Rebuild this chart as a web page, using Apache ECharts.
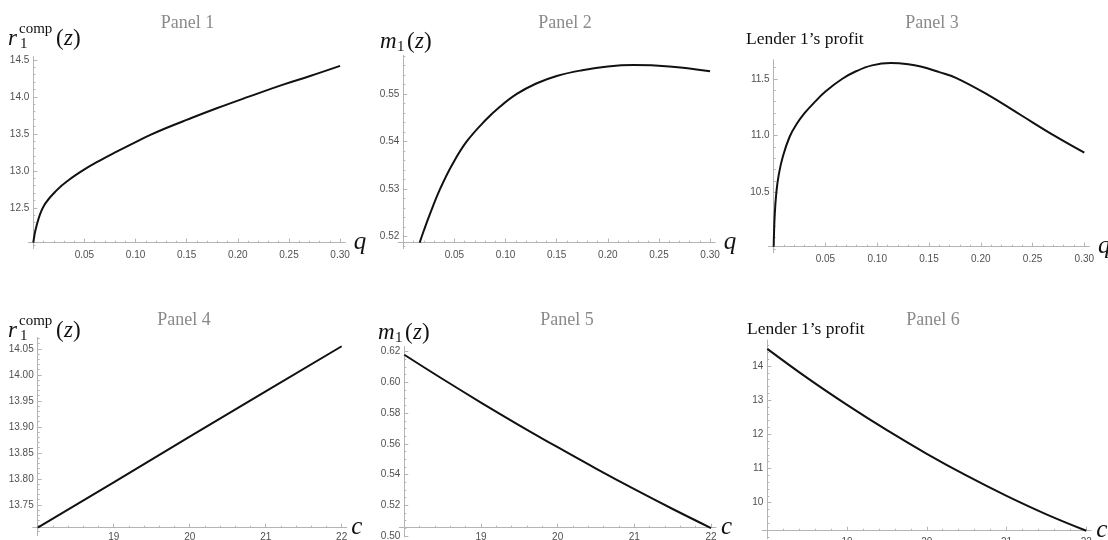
<!DOCTYPE html>
<html>
<head>
<meta charset="utf-8">
<script src="https://cdn.jsdelivr.net/npm/echarts@6/dist/echarts.min.js"></script>
<style>
  html, body { margin: 0; padding: 0; background: #ffffff; }
  #chart { width: 1108px; height: 540px; }
</style>
</head>
<body>
<div id="chart"></div>
<script>
// ---- Panel 1: r1comp(z) against q ----
const qPanel1 = [0, 0.003, 0.01, 0.023, 0.035, 0.05, 0.065, 0.08, 0.10, 0.115, 0.13, 0.15, 0.18, 0.21, 0.245, 0.27, 0.30];
const rCompPanel1 = [12.03, 12.25, 12.52, 12.74, 12.88, 13.02, 13.14, 13.25, 13.39, 13.49, 13.58, 13.69, 13.85, 14.00, 14.17, 14.28, 14.42];

// ---- Panel 2: m1(z) against q ----
const qPanel2 = [0.016, 0.02, 0.026, 0.036, 0.048, 0.062, 0.08, 0.095, 0.111, 0.13, 0.15, 0.175, 0.20, 0.225, 0.26, 0.30];
const m1Panel2 = [0.5187, 0.5212, 0.5247, 0.5300, 0.5352, 0.5400, 0.5444, 0.5474, 0.5500, 0.5522, 0.5538, 0.5550, 0.5558, 0.5561, 0.5558, 0.5548];

// ---- Panel 3: lender 1's profit against q ----
const qPanel3 = [0, 0.001, 0.0026, 0.005, 0.009, 0.0154, 0.022, 0.03, 0.04, 0.05, 0.066, 0.08, 0.095, 0.113, 0.13, 0.142, 0.16, 0.176, 0.207, 0.239, 0.271, 0.30];
const profitPanel3 = [10.02, 10.30, 10.50, 10.66, 10.82, 10.99, 11.10, 11.20, 11.30, 11.39, 11.50, 11.57, 11.62, 11.64, 11.63, 11.61, 11.56, 11.51, 11.36, 11.18, 11.00, 10.85];

// ---- Panel 4: r1comp(z) against c ----
const cPanel4 = [18, 19, 20, 21, 22];
const rCompPanel4 = [13.706, 13.793, 13.881, 13.968, 14.055];

// ---- Panels 5 and 6: m1(z) and lender 1's profit against c ----
const cPanel56 = [18, 18.5, 19, 19.5, 20, 20.5, 21, 21.5, 22];
const m1Panel5 = [0.618, 0.6022, 0.5869, 0.5721, 0.5578, 0.5439, 0.5305, 0.5176, 0.5052];
const profitPanel6 = [14.50, 13.65, 12.86, 12.12, 11.43, 10.79, 10.20, 9.66, 9.18];

// ---- tick labels ----
const qTickLabels = ['0.05', '0.10', '0.15', '0.20', '0.25', '0.30'];
const cTickLabels = ['19', '20', '21', '22'];
const yTickLabels1 = ['12.5', '13.0', '13.5', '14.0', '14.5'];
const yTickLabels2 = ['0.52', '0.53', '0.54', '0.55'];
const yTickLabels3 = ['10.5', '11.0', '11.5'];
const yTickLabels4 = ['13.75', '13.80', '13.85', '13.90', '13.95', '14.00', '14.05'];
const yTickLabels5 = ['0.50', '0.52', '0.54', '0.56', '0.58', '0.60', '0.62'];
const yTickLabels6 = ['10', '11', '12', '13', '14'];
const panelTitles = ['Panel 1', 'Panel 2', 'Panel 3', 'Panel 4', 'Panel 5', 'Panel 6'];

const zip = (xs, ys) => xs.map((x, i) => [x, ys[i]]);
const panels = [
  { data: zip(qPanel1, rCompPanel1), xTicks: qTickLabels, yTicks: yTickLabels1, smooth: 0.4 },
  { data: zip(qPanel2, m1Panel2), xTicks: qTickLabels, yTicks: yTickLabels2, smooth: 0.4 },
  { data: zip(qPanel3, profitPanel3), xTicks: qTickLabels, yTicks: yTickLabels3, smooth: 0.4 },
  { data: zip(cPanel4, rCompPanel4), xTicks: cTickLabels, yTicks: yTickLabels4, smooth: false },
  { data: zip(cPanel56, m1Panel5), xTicks: cTickLabels, yTicks: yTickLabels5, smooth: 0.4 },
  { data: zip(cPanel56, profitPanel6), xTicks: cTickLabels, yTicks: yTickLabels6, smooth: 0.4 }
];

// plot boxes, ranges, axis crossing points and minor tick steps
const layout = [
  { left: 28.2, top: 56.6, width: 317, height: 192, x: [-0.005, 0.305], y: [11.95, 14.545], cross: [0, 12.03], xName: 'q', nameGap: 8, xMinor: 0.01, yMinor: 0.1, labelMargin: 8 },
  { left: 398.2, top: 55.5, width: 317, height: 193.1, x: [-0.005, 0.305], y: [0.51744, 0.5581], cross: [0, 0.5187], xName: 'q', nameGap: 8, xMinor: 0.01, yMinor: 0.002, labelMargin: 8 },
  { left: 768.5, top: 59.7, width: 321, height: 193, x: [-0.005, 0.305], y: [9.967, 11.67], cross: [0, 10.02], xName: 'q', nameGap: 6, xMinor: 0.01, yMinor: 0.1, labelMargin: 8 },
  { left: 32.7, top: 337.4, width: 314, height: 198.3, x: [17.934, 22.066], y: [13.6906, 14.072], cross: [18, 13.706], xName: 'c', nameGap: 4, xMinor: 0.2, yMinor: 0.01, labelMargin: 5 },
  { left: 399.3, top: 346.6, width: 316.8, height: 190.2, x: [17.935, 22.066], y: [0.4995, 0.6233], cross: [18, 0.5054], xName: 'c', nameGap: 5, xMinor: 0.2, yMinor: 0.005, labelMargin: 5 },
  { left: 762.3, top: 340, width: 329, height: 198.7, x: [17.937, 22.063], y: [8.946, 14.76], cross: [18, 9.18], xName: 'c', nameGap: 5, xMinor: 0.2, yMinor: 0.2, labelMargin: 7 }
];

const AXIS_COLOR = '#b4b4b4';
const LABEL_COLOR = '#505050';
const SANS = '"Liberation Sans", Arial, sans-serif';
const SERIF = '"Liberation Serif", "Times New Roman", serif';

function minorValues(range, step, majors) {
  const out = [];
  const k0 = Math.ceil(range[0] / step - 1e-9);
  const k1 = Math.floor(range[1] / step + 1e-9);
  for (let k = k0; k <= k1; k++) {
    const v = +(k * step).toFixed(6);
    if (!majors.some(m => Math.abs(m - v) < step / 10)) out.push(v);
  }
  return out;
}
function labelFormatter(labels) {
  return v => labels.find(s => Math.abs(parseFloat(s) - v) < 1e-7) || '';
}

const grids = [], xAxes = [], yAxes = [], series = [];
panels.forEach((p, i) => {
  const L = layout[i];
  grids.push({ left: L.left, top: L.top, width: L.width, height: L.height, containLabel: false, outerBoundsMode: 'none' });
  const xMajor = p.xTicks.map(Number);
  const yMajor = p.yTicks.map(Number);
  const xOffset = -((L.cross[1] - L.y[0]) / (L.y[1] - L.y[0])) * L.height;
  const yOffset = -((L.cross[0] - L.x[0]) / (L.x[1] - L.x[0])) * L.width;

  xAxes.push({
    type: 'value', gridIndex: i, min: L.x[0], max: L.x[1], position: 'bottom', offset: xOffset,
    axisLine: { show: true, onZero: false, lineStyle: { color: AXIS_COLOR, width: 1 } },
    axisTick: { show: true, inside: true, length: 4, customValues: xMajor, lineStyle: { color: AXIS_COLOR } },
    axisLabel: { customValues: xMajor, formatter: labelFormatter(p.xTicks), color: LABEL_COLOR, fontSize: 10, fontFamily: SANS, margin: L.labelMargin },
    splitLine: { show: false },
    name: L.xName, nameLocation: 'end', nameGap: L.nameGap,
    nameTextStyle: { fontFamily: SERIF, fontStyle: 'italic', fontSize: 25, color: '#111', verticalAlign: 'middle', padding: [0, 0, 8, 0] }
  });
  xAxes.push({
    type: 'value', gridIndex: i, min: L.x[0], max: L.x[1], position: 'bottom', offset: xOffset,
    axisLine: { show: false, onZero: false },
    axisTick: { show: true, inside: true, length: 2, customValues: minorValues(L.x, L.xMinor, xMajor), lineStyle: { color: AXIS_COLOR } },
    axisLabel: { show: false }, splitLine: { show: false }
  });
  yAxes.push({
    type: 'value', gridIndex: i, min: L.y[0], max: L.y[1], position: 'left', offset: yOffset,
    axisLine: { show: true, onZero: false, lineStyle: { color: AXIS_COLOR, width: 1 } },
    axisTick: { show: true, inside: true, length: 4, customValues: yMajor, lineStyle: { color: AXIS_COLOR } },
    axisLabel: { customValues: yMajor, formatter: labelFormatter(p.yTicks), color: LABEL_COLOR, fontSize: 10, fontFamily: SANS, margin: 4 },
    splitLine: { show: false }
  });
  yAxes.push({
    type: 'value', gridIndex: i, min: L.y[0], max: L.y[1], position: 'left', offset: yOffset,
    axisLine: { show: false, onZero: false },
    axisTick: { show: true, inside: true, length: 2, customValues: minorValues(L.y, L.yMinor, yMajor), lineStyle: { color: AXIS_COLOR } },
    axisLabel: { show: false }, splitLine: { show: false }
  });
  series.push({
    type: 'line', xAxisIndex: 2 * i, yAxisIndex: 2 * i, data: p.data,
    showSymbol: false, smooth: p.smooth, silent: true,
    lineStyle: { color: '#111111', width: 2 }
  });
});

// panel headings and vertical-axis captions
const titlePos = [[187.5, 23], [565, 23], [932, 23], [184, 320], [567, 320], [933, 320]];
function txt(x, y, text, size, opts) {
  return {
    type: 'text', x: x, y: y, silent: true,
    style: Object.assign({ text: text, fontSize: size, fontFamily: SERIF, fill: '#111', align: 'left', verticalAlign: 'middle' }, opts || {})
  };
}
function rComp(x, base) {
  return [
    txt(x, base - 7.5, 'r', 23, { fontStyle: 'italic' }),
    txt(x + 11, base - 17, 'comp', 15),
    txt(x + 12, base - 2, '1', 15),
    txt(x + 48, base - 7.5, '(', 23),
    txt(x + 56, base - 7.5, 'z', 23, { fontStyle: 'italic' }),
    txt(x + 65, base - 7.5, ')', 23)
  ];
}
function mOne(x, base) {
  return [
    txt(x, base - 7.5, 'm', 23, { fontStyle: 'italic' }),
    txt(x + 17, base - 2, '1', 15),
    txt(x + 27, base - 7.5, '(', 23),
    txt(x + 35, base - 7.5, 'z', 23, { fontStyle: 'italic' }),
    txt(x + 44, base - 7.5, ')', 23)
  ];
}
const graphics = [];
panelTitles.forEach((t, i) => {
  graphics.push(txt(titlePos[i][0], titlePos[i][1], t, 18, { fill: '#8a8a8a', align: 'center' }));
});
graphics.push(...rComp(8, 46));
graphics.push(...mOne(380, 49));
graphics.push(txt(746, 39, 'Lender 1\u2019s profit', 17.5));
graphics.push(...rComp(8, 338));
graphics.push(...mOne(378, 340));
graphics.push(txt(747, 329, 'Lender 1\u2019s profit', 17.5));

const chart = echarts.init(document.getElementById('chart'), null, { renderer: 'canvas' });
chart.setOption({
  animation: false,
  backgroundColor: '#ffffff',
  grid: grids,
  xAxis: xAxes,
  yAxis: yAxes,
  series: series,
  graphic: graphics
});
</script>
</body>
</html>
